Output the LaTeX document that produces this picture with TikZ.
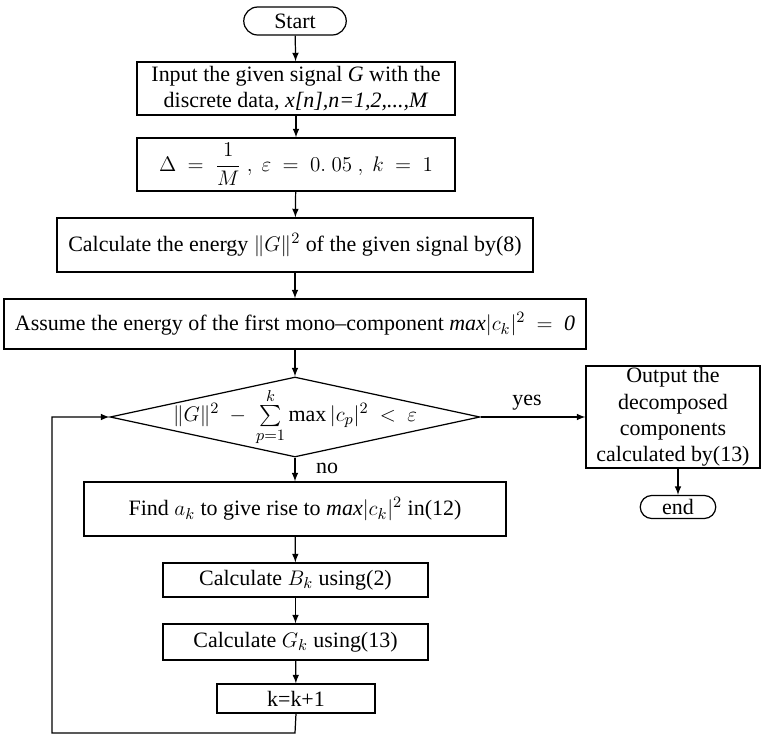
\documentclass[tikz,border=0pt]{standalone}
\usepackage{amsmath}
\usepackage{fontspec}
\setmainfont{Liberation Serif}
\usetikzlibrary{shapes.geometric,shapes.misc}

\tikzset{
	box/.style={draw, line width=0.7pt, inner sep=1pt, align=center},
	term/.style={draw, rounded rectangle, line width=0.7pt, inner sep=1pt},
	decision/.style={draw, diamond, aspect=4.6, line width=0.7pt, inner sep=-10pt},
	flow/.style={->, >=latex, line width=0.7pt},
}

\begin{document}
\begin{tikzpicture}[x=0.02cm, y=-0.02cm, font=\fontsize{12.5}{15}\selectfont]
		%%%%% START %%%%%
		\useasboundingbox (0, 0) rectangle (762, 734);
		
		\node[term, minimum width=2.12cm, minimum height=0.56cm] (start) at (295, 21) {Start};
		\node[box, minimum width=6.36cm, minimum height=1.06cm] (input) at (296, 88.5) {Input the given signal \textit{G} with the\\discrete data, \textit{x[n],n=1,2,...,M}};
		\node[box, minimum width=6.36cm, minimum height=1.06cm] (delta) at (296, 164.5) {$\Delta\ =\ \dfrac{1}{M}\ ,\ \varepsilon\ =\ 0.\ 05\ ,\ k\ =\ 1$};
		\node[box, minimum width=9.52cm, minimum height=1.08cm] (energy) at (295, 245) {Calculate the energy $\|G\|^2$ of the given signal by(8)};
		\node[box, minimum width=11.64cm, minimum height=1.0cm] (assume) at (295, 324) {Assume the energy of the first mono--component \textit{max}$|c_k|^2\ =\ \mathit{0}$};
		
		\node[decision, minimum width=7.4cm, minimum height=1.6cm] (cond) at (295, 417) {$\|G\|^2\ -\ \sum\limits_{p=1}^{k}\max|c_p|^2\ <\ \varepsilon$};
		
		\node[box, inner sep=0pt, minimum width=3.48cm, minimum height=2.04cm] (output) at (673, 417) {Output the\\decomposed\\components\\calculated by(13)};
		\node[term, minimum width=1.58cm, minimum height=0.46cm] (end) at (678, 507) {end};
		
		\node[box, minimum width=8.44cm, minimum height=1.08cm] (find) at (295, 509) {Find $a_k$ to give rise to \textit{max}$|c_k|^2$ in(12)};
		\node[box, minimum width=5.3cm, minimum height=0.68cm] (calcb) at (295.5, 580) {Calculate $B_k$ using(2)};
		\node[box, minimum width=5.3cm, minimum height=0.72cm] (calcg) at (295.5, 642) {Calculate $G_k$ using(13)};
		\node[box, minimum width=3.16cm, minimum height=0.58cm] (incr) at (296, 698.5) {k=k+1};
		
		\node (yes) at (527, 403) {yes};
		\node (no) at (327, 468) {no};
		
		\coordinate (loopright) at (295, 733);
		\coordinate (loopleft) at (52, 733);
		\coordinate (looptop) at (52, 417);
		
		\draw[flow] (start) -- (input);
		\draw[flow] (input) -- (delta);
		\draw[flow] (delta) -- (energy);
		\draw[flow] (energy) -- (assume);
		\draw[flow] (assume) -- (cond.north);
		\draw[flow] (cond.east) -- (output.west);
		\draw[flow] (end.north |- output.south) -- (end.north);
		\draw[flow] (cond.south) -- (find.north);
		\draw[flow] (find) -- (calcb);
		\draw[flow] (calcb) -- (calcg);
		\draw[flow] (calcg) -- (incr);
		\draw[flow] (incr.south) -- (loopright) -- (loopleft) -- (looptop) -- (cond.west);
		
		%%%%% END %%%%%
	\end{tikzpicture}
\end{document}
